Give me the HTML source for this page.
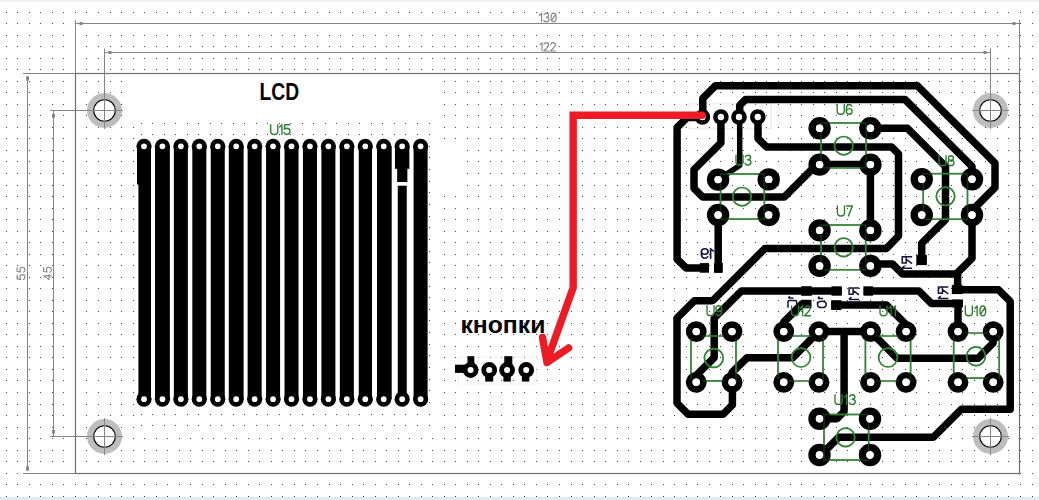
<!DOCTYPE html>
<html><head><meta charset="utf-8"><title>PCB</title>
<style>html,body{margin:0;padding:0;background:#fff;overflow:hidden}svg{display:block}text{font-family:"Liberation Sans",sans-serif}</style>
</head><body>
<svg width="1039" height="500" viewBox="0 0 1039 500">
<rect width="1039" height="500" fill="#fff"/>
<defs><path id="r" fill="#444" d="M6 0h1v1h-1zm11 0h1v1h-1zm12 0h1v1h-1zm11 0h1v1h-1zm12 0h1v1h-1zm11 0h1v1h-1zm12 0h1v1h-1zm11 0h1v1h-1zm12 0h1v1h-1zm12 0h1v1h-1zm11 0h1v1h-1zm12 0h1v1h-1zm11 0h1v1h-1zm12 0h1v1h-1zm11 0h1v1h-1zm12 0h1v1h-1zm11 0h1v1h-1zm12 0h1v1h-1zm11 0h1v1h-1zm12 0h1v1h-1zm11 0h1v1h-1zm12 0h1v1h-1zm11 0h1v1h-1zm12 0h1v1h-1zm11 0h1v1h-1zm12 0h1v1h-1zm11 0h1v1h-1zm12 0h1v1h-1zm12 0h1v1h-1zm11 0h1v1h-1zm12 0h1v1h-1zm11 0h1v1h-1zm12 0h1v1h-1zm11 0h1v1h-1zm12 0h1v1h-1zm11 0h1v1h-1zm12 0h1v1h-1zm11 0h1v1h-1zm12 0h1v1h-1zm11 0h1v1h-1zm12 0h1v1h-1zm11 0h1v1h-1zm12 0h1v1h-1zm11 0h1v1h-1zm12 0h1v1h-1zm11 0h1v1h-1zm12 0h1v1h-1zm11 0h1v1h-1zm12 0h1v1h-1zm12 0h1v1h-1zm11 0h1v1h-1zm12 0h1v1h-1zm11 0h1v1h-1zm12 0h1v1h-1zm11 0h1v1h-1zm12 0h1v1h-1zm11 0h1v1h-1zm12 0h1v1h-1zm11 0h1v1h-1zm12 0h1v1h-1zm11 0h1v1h-1zm12 0h1v1h-1zm11 0h1v1h-1zm12 0h1v1h-1zm11 0h1v1h-1zm12 0h1v1h-1zm11 0h1v1h-1zm12 0h1v1h-1zm12 0h1v1h-1zm11 0h1v1h-1zm12 0h1v1h-1zm11 0h1v1h-1zm12 0h1v1h-1zm11 0h1v1h-1zm12 0h1v1h-1zm11 0h1v1h-1zm12 0h1v1h-1zm11 0h1v1h-1zm12 0h1v1h-1zm11 0h1v1h-1zm12 0h1v1h-1zm11 0h1v1h-1zm12 0h1v1h-1zm11 0h1v1h-1zm12 0h1v1h-1zm11 0h1v1h-1zm12 0h1v1h-1zm11 0h1v1h-1zm12 0h1v1h-1zm12 0h1v1h-1z"/></defs>
<use href="#r" y="12"/>
<use href="#r" y="23"/>
<use href="#r" y="35"/>
<use href="#r" y="46"/>
<use href="#r" y="58"/>
<use href="#r" y="69"/>
<use href="#r" y="81"/>
<use href="#r" y="92"/>
<use href="#r" y="104"/>
<use href="#r" y="115"/>
<use href="#r" y="127"/>
<use href="#r" y="138"/>
<use href="#r" y="150"/>
<use href="#r" y="161"/>
<use href="#r" y="173"/>
<use href="#r" y="185"/>
<use href="#r" y="196"/>
<use href="#r" y="208"/>
<use href="#r" y="219"/>
<use href="#r" y="231"/>
<use href="#r" y="242"/>
<use href="#r" y="254"/>
<use href="#r" y="265"/>
<use href="#r" y="277"/>
<use href="#r" y="288"/>
<use href="#r" y="300"/>
<use href="#r" y="311"/>
<use href="#r" y="323"/>
<use href="#r" y="334"/>
<use href="#r" y="346"/>
<use href="#r" y="357"/>
<use href="#r" y="369"/>
<use href="#r" y="380"/>
<use href="#r" y="392"/>
<use href="#r" y="404"/>
<use href="#r" y="415"/>
<use href="#r" y="427"/>
<use href="#r" y="438"/>
<use href="#r" y="450"/>
<use href="#r" y="461"/>
<use href="#r" y="473"/>
<use href="#r" y="484"/>
<use href="#r" y="496"/>
<rect x="133" y="76" width="308" height="45" fill="#fff"/>
<rect x="434" y="148" width="28" height="46" fill="#fff"/>
<rect x="135" y="121" width="302" height="310" fill="#fff"/>
<path fill="#444" d="M141 123h1v1h-1zm11 0h1v1h-1zm12 0h1v1h-1zm11 0h1v1h-1zm12 0h1v1h-1zm11 0h1v1h-1zm12 0h1v1h-1zm11 0h1v1h-1zm12 0h1v1h-1zm11 0h1v1h-1zm12 0h1v1h-1zm11 0h1v1h-1zm12 0h1v1h-1zm11 0h1v1h-1zm12 0h1v1h-1zm11 0h1v1h-1zm12 0h1v1h-1zm11 0h1v1h-1zm12 0h1v1h-1zm11 0h1v1h-1zm12 0h1v1h-1zm11 0h1v1h-1zm12 0h1v1h-1zm11 0h1v1h-1zm12 0h1v1h-1zm12 0h1v1h-1zM141 134h1v1h-1zm11 0h1v1h-1zm12 0h1v1h-1zm11 0h1v1h-1zm12 0h1v1h-1zm11 0h1v1h-1zm12 0h1v1h-1zm11 0h1v1h-1zm12 0h1v1h-1zm11 0h1v1h-1zm12 0h1v1h-1zm11 0h1v1h-1zm12 0h1v1h-1zm11 0h1v1h-1zm12 0h1v1h-1zm11 0h1v1h-1zm12 0h1v1h-1zm11 0h1v1h-1zm12 0h1v1h-1zm11 0h1v1h-1zm12 0h1v1h-1zm11 0h1v1h-1zm12 0h1v1h-1zm11 0h1v1h-1zm12 0h1v1h-1zm12 0h1v1h-1zM429 146h1v1h-1zM429 157h1v1h-1zM429 169h1v1h-1zM429 181h1v1h-1zM429 192h1v1h-1zM429 204h1v1h-1zM429 216h1v1h-1zM429 227h1v1h-1zM429 239h1v1h-1zM429 251h1v1h-1zM429 262h1v1h-1zM429 274h1v1h-1zM429 286h1v1h-1zM429 297h1v1h-1zM429 309h1v1h-1zM429 320h1v1h-1zM429 332h1v1h-1zM429 344h1v1h-1zM429 355h1v1h-1zM429 367h1v1h-1zM429 379h1v1h-1zM429 390h1v1h-1zM429 402h1v1h-1zM141 414h1v1h-1zm11 0h1v1h-1zm12 0h1v1h-1zm11 0h1v1h-1zm12 0h1v1h-1zm11 0h1v1h-1zm12 0h1v1h-1zm11 0h1v1h-1zm12 0h1v1h-1zm11 0h1v1h-1zm12 0h1v1h-1zm11 0h1v1h-1zm12 0h1v1h-1zm11 0h1v1h-1zm12 0h1v1h-1zm11 0h1v1h-1zm12 0h1v1h-1zm11 0h1v1h-1zm12 0h1v1h-1zm11 0h1v1h-1zm12 0h1v1h-1zm11 0h1v1h-1zm12 0h1v1h-1zm11 0h1v1h-1zm12 0h1v1h-1zm12 0h1v1h-1zM141 425h1v1h-1zm11 0h1v1h-1zm12 0h1v1h-1zm11 0h1v1h-1zm12 0h1v1h-1zm11 0h1v1h-1zm12 0h1v1h-1zm11 0h1v1h-1zm12 0h1v1h-1zm11 0h1v1h-1zm12 0h1v1h-1zm11 0h1v1h-1zm12 0h1v1h-1zm11 0h1v1h-1zm12 0h1v1h-1zm11 0h1v1h-1zm12 0h1v1h-1zm11 0h1v1h-1zm12 0h1v1h-1zm11 0h1v1h-1zm12 0h1v1h-1zm11 0h1v1h-1zm12 0h1v1h-1zm11 0h1v1h-1zm12 0h1v1h-1zm12 0h1v1h-1z"/>
<rect x="0" y="0" width="1039" height="2" fill="#eef0f5"/>
<rect x="0" y="497" width="1039" height="3" fill="#e3ebf5"/>
<rect x="75.5" y="73.5" width="944.0" height="400.0" fill="none" stroke="#6c6c6c" stroke-width="1.15"/>
<line x1="75.5" y1="20" x2="75.5" y2="73.5" stroke="#858585" stroke-width="1"/>
<line x1="1019.5" y1="20" x2="1019.5" y2="73.5" stroke="#858585" stroke-width="1"/>
<line x1="23" y1="73.5" x2="75.5" y2="73.5" stroke="#858585" stroke-width="1"/>
<line x1="23" y1="473.5" x2="75.5" y2="473.5" stroke="#858585" stroke-width="1"/>
<line x1="75.5" y1="23.5" x2="1019.5" y2="23.5" stroke="#858585" stroke-width="1"/>
<rect x="79.5" y="22" width="3" height="3" fill="#858585"/>
<rect x="1012.5" y="22" width="3" height="3" fill="#858585"/>
<line x1="104.5" y1="52.5" x2="990.5" y2="52.5" stroke="#858585" stroke-width="1"/>
<rect x="108.5" y="51" width="3" height="3" fill="#858585"/>
<rect x="983.5" y="51" width="3" height="3" fill="#858585"/>
<line x1="104.5" y1="48.5" x2="104.5" y2="128.5" stroke="#858585" stroke-width="1"/>
<line x1="990.5" y1="48.5" x2="990.5" y2="128.5" stroke="#858585" stroke-width="1"/>
<line x1="27.5" y1="76" x2="27.5" y2="471" stroke="#858585" stroke-width="1"/>
<rect x="26" y="76.5" width="3" height="4" fill="#858585"/>
<rect x="26" y="466.5" width="3" height="4" fill="#858585"/>
<line x1="53.5" y1="110.5" x2="53.5" y2="436.5" stroke="#858585" stroke-width="1"/>
<rect x="52" y="114" width="3" height="3.5" fill="#858585"/>
<rect x="52" y="430" width="3" height="3.5" fill="#858585"/>
<line x1="50" y1="110.5" x2="123" y2="110.5" stroke="#858585" stroke-width="1"/>
<line x1="50" y1="436.5" x2="123" y2="436.5" stroke="#858585" stroke-width="1"/>
<line x1="972" y1="110.5" x2="1009" y2="110.5" stroke="#858585" stroke-width="1"/>
<line x1="972" y1="436.5" x2="1009" y2="436.5" stroke="#858585" stroke-width="1"/>
<circle cx="104.5" cy="110.5" r="14.3" fill="none" stroke="#bdbdbd" stroke-width="6.4"/>
<circle cx="104.5" cy="110.5" r="10.8" fill="#fff" stroke="#000" stroke-width="1.1"/>
<line x1="104.5" y1="92.0" x2="104.5" y2="129.0" stroke="#858585" stroke-width="1"/>
<line x1="86.0" y1="110.5" x2="123.0" y2="110.5" stroke="#858585" stroke-width="1"/>
<circle cx="990.5" cy="110.5" r="14.3" fill="none" stroke="#bdbdbd" stroke-width="6.4"/>
<circle cx="990.5" cy="110.5" r="10.8" fill="#fff" stroke="#000" stroke-width="1.1"/>
<line x1="990.5" y1="92.0" x2="990.5" y2="129.0" stroke="#858585" stroke-width="1"/>
<line x1="972.0" y1="110.5" x2="1009.0" y2="110.5" stroke="#858585" stroke-width="1"/>
<circle cx="104.5" cy="436.5" r="14.3" fill="none" stroke="#bdbdbd" stroke-width="6.4"/>
<circle cx="104.5" cy="436.5" r="10.8" fill="#fff" stroke="#000" stroke-width="1.1"/>
<line x1="104.5" y1="418.0" x2="104.5" y2="455.0" stroke="#858585" stroke-width="1"/>
<line x1="86.0" y1="436.5" x2="123.0" y2="436.5" stroke="#858585" stroke-width="1"/>
<circle cx="990.5" cy="436.5" r="14.3" fill="none" stroke="#bdbdbd" stroke-width="6.4"/>
<circle cx="990.5" cy="436.5" r="10.8" fill="#fff" stroke="#000" stroke-width="1.1"/>
<line x1="990.5" y1="418.0" x2="990.5" y2="455.0" stroke="#858585" stroke-width="1"/>
<line x1="972.0" y1="436.5" x2="1009.0" y2="436.5" stroke="#858585" stroke-width="1"/>
<g fill="#000" stroke="none">
<rect x="137" y="146.3" width="14" height="38.19999999999999"/>
<rect x="138.40" y="146.3" width="12.6" height="252.89999999999998"/>
<circle cx="144.00" cy="146.3" r="7.6"/><circle cx="144.00" cy="399.2" r="7.6"/>
<rect x="155.04" y="146.3" width="14.8" height="252.89999999999998"/>
<circle cx="162.44" cy="146.3" r="7.6"/><circle cx="162.44" cy="399.2" r="7.6"/>
<rect x="173.88" y="146.3" width="14.0" height="252.89999999999998"/>
<circle cx="180.88" cy="146.3" r="7.6"/><circle cx="180.88" cy="399.2" r="7.6"/>
<rect x="192.32" y="146.3" width="14.0" height="252.89999999999998"/>
<circle cx="199.32" cy="146.3" r="7.6"/><circle cx="199.32" cy="399.2" r="7.6"/>
<rect x="210.76" y="146.3" width="14.0" height="252.89999999999998"/>
<circle cx="217.76" cy="146.3" r="7.6"/><circle cx="217.76" cy="399.2" r="7.6"/>
<rect x="228.80" y="146.3" width="14.8" height="252.89999999999998"/>
<circle cx="236.20" cy="146.3" r="7.6"/><circle cx="236.20" cy="399.2" r="7.6"/>
<rect x="247.64" y="146.3" width="14.0" height="252.89999999999998"/>
<circle cx="254.64" cy="146.3" r="7.6"/><circle cx="254.64" cy="399.2" r="7.6"/>
<rect x="266.08" y="146.3" width="14.0" height="252.89999999999998"/>
<circle cx="273.08" cy="146.3" r="7.6"/><circle cx="273.08" cy="399.2" r="7.6"/>
<rect x="284.52" y="146.3" width="14.0" height="252.89999999999998"/>
<circle cx="291.52" cy="146.3" r="7.6"/><circle cx="291.52" cy="399.2" r="7.6"/>
<rect x="302.96" y="146.3" width="14.0" height="252.89999999999998"/>
<circle cx="309.96" cy="146.3" r="7.6"/><circle cx="309.96" cy="399.2" r="7.6"/>
<rect x="321.40" y="146.3" width="14.0" height="252.89999999999998"/>
<circle cx="328.40" cy="146.3" r="7.6"/><circle cx="328.40" cy="399.2" r="7.6"/>
<rect x="339.84" y="146.3" width="14.0" height="252.89999999999998"/>
<circle cx="346.84" cy="146.3" r="7.6"/><circle cx="346.84" cy="399.2" r="7.6"/>
<rect x="358.80" y="146.3" width="13.2" height="252.89999999999998"/>
<circle cx="365.28" cy="146.3" r="7.6"/><circle cx="365.28" cy="399.2" r="7.6"/>
<rect x="377.00" y="146.3" width="14.7" height="252.89999999999998"/>
<circle cx="383.72" cy="146.3" r="7.6"/><circle cx="383.72" cy="399.2" r="7.6"/>
<rect x="413.60" y="146.3" width="14.0" height="252.89999999999998"/>
<circle cx="420.60" cy="146.3" r="7.6"/><circle cx="420.60" cy="399.2" r="7.6"/>
<circle cx="402.16" cy="146.3" r="7.6"/><circle cx="402.16" cy="399.2" r="7.6"/>
<rect x="394.96" y="146.3" width="14.4" height="22.5"/>
<rect x="397.16" y="146.3" width="10.2" height="35.69999999999999"/>
<rect x="397.76" y="185.7" width="9.0" height="213.5"/>
</g>
<g fill="#fff">
<circle cx="144.00" cy="146.3" r="2.85"/><circle cx="144.00" cy="399.2" r="2.85"/>
<circle cx="162.44" cy="146.3" r="2.85"/><circle cx="162.44" cy="399.2" r="2.85"/>
<circle cx="180.88" cy="146.3" r="2.85"/><circle cx="180.88" cy="399.2" r="2.85"/>
<circle cx="199.32" cy="146.3" r="2.85"/><circle cx="199.32" cy="399.2" r="2.85"/>
<circle cx="217.76" cy="146.3" r="2.85"/><circle cx="217.76" cy="399.2" r="2.85"/>
<circle cx="236.20" cy="146.3" r="2.85"/><circle cx="236.20" cy="399.2" r="2.85"/>
<circle cx="254.64" cy="146.3" r="2.85"/><circle cx="254.64" cy="399.2" r="2.85"/>
<circle cx="273.08" cy="146.3" r="2.85"/><circle cx="273.08" cy="399.2" r="2.85"/>
<circle cx="291.52" cy="146.3" r="2.85"/><circle cx="291.52" cy="399.2" r="2.85"/>
<circle cx="309.96" cy="146.3" r="2.85"/><circle cx="309.96" cy="399.2" r="2.85"/>
<circle cx="328.40" cy="146.3" r="2.85"/><circle cx="328.40" cy="399.2" r="2.85"/>
<circle cx="346.84" cy="146.3" r="2.85"/><circle cx="346.84" cy="399.2" r="2.85"/>
<circle cx="365.28" cy="146.3" r="2.85"/><circle cx="365.28" cy="399.2" r="2.85"/>
<circle cx="383.72" cy="146.3" r="2.85"/><circle cx="383.72" cy="399.2" r="2.85"/>
<circle cx="402.16" cy="146.3" r="2.85"/><circle cx="402.16" cy="399.2" r="2.85"/>
<circle cx="420.60" cy="146.3" r="2.85"/><circle cx="420.60" cy="399.2" r="2.85"/>
</g>
<text x="279.3" y="100.4" font-size="23.6" font-weight="bold" fill="#000" text-anchor="middle" textLength="39.6" lengthAdjust="spacingAndGlyphs">LCD</text>
<text x="502.9" y="332.5" font-size="23.5" font-weight="bold" fill="#000" text-anchor="middle" textLength="85" lengthAdjust="spacingAndGlyphs">кнопки</text>
<rect x="458.5" y="357" width="78.5" height="27" fill="none" stroke="#f1efef" stroke-width="1"/>
<g stroke="#000" fill="none" stroke-linecap="butt">
<path d="M455,368.8 H470.6" stroke-width="8.2"/>
<path d="M470.90000000000003,370.0 V356.2" stroke-width="6.8"/>
<path d="M489.2,370.0 V381.6" stroke-width="8"/>
<path d="M508.3,356.2 V370.0" stroke-width="8"/>
<path d="M507.1,370.0 V381.6" stroke-width="7.4"/>
<path d="M525.6,370.0 V381.6" stroke-width="7.4"/>
</g>
<circle cx="470.6" cy="370.0" r="7.9" fill="#000"/><circle cx="470.6" cy="370.0" r="3.05" fill="#fff"/>
<circle cx="489.2" cy="370.0" r="7.9" fill="#000"/><circle cx="489.2" cy="370.0" r="3.05" fill="#fff"/>
<circle cx="507.1" cy="370.0" r="7.9" fill="#000"/><circle cx="507.1" cy="370.0" r="3.05" fill="#fff"/>
<circle cx="526.2" cy="370.0" r="7.9" fill="#000"/><circle cx="526.2" cy="370.0" r="3.05" fill="#fff"/>
<rect x="689.3" y="103.8" width="82" height="25" fill="none" stroke="#ebe6e6" stroke-width="1"/>
<g stroke="#000" stroke-width="7.5" fill="none" stroke-linejoin="round" stroke-linecap="butt">
<path d="M702.8,117 V98.3 L715.3,85.8 H917.5 L995,163.2 V187.5 L972,210.5 V258.3 L957.6,272.7"/>
<path d="M702,117.6 H687 L677.1,127.5 V259.2 L686.2,268 H709"/>
<path d="M739.7,117 V105.4 L745.6,99.5 H905 L972,166.4 V179"/>
<path d="M720.9,117 V142.8 L694,169.7 V188.3 L702.8,197.1 H784.2 L818.8,162.5"/>
<path d="M758,117 V138.5 L766.4,146.9 H891.5 L898.5,153.9 V236 L886.5,248.4 H765 L713.5,299.9 L712,300.7 H694.5 L677,318.2 V403.1 L688.2,414.3 H723 L732.4,404.9 V382"/>
<path d="M841.8,290.9 H741.5 L714.2,318.1 V357.5 L696.5,375.2 V382"/>
<path d="M863.6,290.9 H918.8 L931.3,303.4 H960"/>
<path d="M811,304 H802 L783.8,322 V331.5"/>
<path d="M831.3,305 H886.4 L906.1,324.7 V331.6"/>
<path d="M818.8,331.5 H870.5"/>
<path d="M844.1,331.5 V411.6 L837,418.7 H819.5"/>
<path d="M818.8,331.5 L792.6,357.8 H747 L732,372.5 V382"/>
<path d="M870.6,331.6 L897.2,358.3 H978 L993.2,342.8 V331.6"/>
<path d="M870.4,264 H892.5 L902.6,274.1 H958"/>
<path d="M957.6,270 V294"/>
<path d="M954.5,289.8 H998.6 L1010.2,301.4 V409.3 H961.3 L933.5,437.2 H838.8 L821,455 H819.5"/>
<path d="M958,300 V331.5"/>
<path d="M870.4,128.3 H907.5 L945.5,166.3 V219.6 L921.7,243.4 V265"/>
<path d="M819.6,164.6 H870.4 V230"/>
<path d="M718.2,215 V272.7"/>
<path d="M739.7,117 V165.5 L718.1,179.6" stroke-width="5.5"/>
</g>
<g fill="#000">
<rect x="916.3" y="254.9" width="10.6" height="10.2"/>
<rect x="951.8" y="284.9" width="10.7" height="9.2"/>
<rect x="952.2" y="299.5" width="10.8" height="7.9"/>
<rect x="801.2" y="286.2" width="10.6" height="9.6"/>
<rect x="801" y="299.8" width="10.5" height="8.4"/>
<rect x="831.5" y="286.3" width="10.3" height="9.4"/>
<rect x="831.2" y="300.2" width="10.3" height="9.8"/>
<rect x="863.5" y="286.3" width="9.5" height="9.4"/>
<rect x="699.8" y="263.1" width="9.2" height="9.6"/>
<rect x="714" y="263" width="8.8" height="9.7"/>
</g>
<g stroke="#2f7d32" stroke-width="1.7" fill="none">
<rect x="720.5" y="174" width="43.799999999999955" height="45"/>
<circle cx="742" cy="196.7" r="9.2"/>
<rect x="821" y="123" width="45" height="44.80000000000001"/>
<circle cx="843.7" cy="145.7" r="9.2"/>
<rect x="821" y="225" width="44.700000000000045" height="44.80000000000001"/>
<circle cx="843.7" cy="247.4" r="9.2"/>
<rect x="923.2" y="173.7" width="44.299999999999955" height="45.5"/>
<circle cx="945.5" cy="196.3" r="9.2"/>
<rect x="824" y="414.5" width="44.700000000000045" height="45.5"/>
<circle cx="845.6" cy="437.4" r="9.2"/>
<path d="M691,338 V378.8 M736,338 V381.8 M702.5,336 H724 M702.5,380.8 H724"/>
<circle cx="713.8" cy="358" r="9.4"/>
<path d="M778,338 V379 M823,338 V382 M789,336 H812 M789,381 H812"/>
<circle cx="801" cy="357.6" r="9.4"/>
<path d="M865.4,338 V379 M910.6,338 V382 M876,336 H900 M876,381 H900"/>
<circle cx="888" cy="357.6" r="9.4"/>
<path d="M953.7,335 V376.2 M999.2,335 V379.2 M965.2,333 H987.8 M965.2,378.2 H987.8"/>
<circle cx="976" cy="356.2" r="9.4"/>
</g>
<circle cx="718.1" cy="179.6" r="11.2" fill="#000"/><circle cx="718.1" cy="179.6" r="3.7" fill="#fff"/>
<circle cx="768.7" cy="179.4" r="11.2" fill="#000"/><circle cx="768.7" cy="179.4" r="3.7" fill="#fff"/>
<circle cx="718.1" cy="215" r="11.2" fill="#000"/><circle cx="718.1" cy="215" r="3.7" fill="#fff"/>
<circle cx="768.6" cy="215" r="11.2" fill="#000"/><circle cx="768.6" cy="215" r="3.7" fill="#fff"/>
<circle cx="819.6" cy="128.3" r="11.2" fill="#000"/><circle cx="819.6" cy="128.3" r="3.7" fill="#fff"/>
<circle cx="870.4" cy="128.3" r="11.2" fill="#000"/><circle cx="870.4" cy="128.3" r="3.7" fill="#fff"/>
<circle cx="819.6" cy="164.6" r="11.2" fill="#000"/><circle cx="819.6" cy="164.6" r="3.7" fill="#fff"/>
<circle cx="870.4" cy="164.6" r="11.2" fill="#000"/><circle cx="870.4" cy="164.6" r="3.7" fill="#fff"/>
<circle cx="819.6" cy="230.4" r="11.2" fill="#000"/><circle cx="819.6" cy="230.4" r="3.7" fill="#fff"/>
<circle cx="870.4" cy="230.4" r="11.2" fill="#000"/><circle cx="870.4" cy="230.4" r="3.7" fill="#fff"/>
<circle cx="819.6" cy="265.9" r="11.2" fill="#000"/><circle cx="819.6" cy="265.9" r="3.7" fill="#fff"/>
<circle cx="870.4" cy="265.9" r="11.2" fill="#000"/><circle cx="870.4" cy="265.9" r="3.7" fill="#fff"/>
<circle cx="921.75" cy="179.25" r="11.2" fill="#000"/><circle cx="921.75" cy="179.25" r="3.7" fill="#fff"/>
<circle cx="972" cy="179.25" r="11.2" fill="#000"/><circle cx="972" cy="179.25" r="3.7" fill="#fff"/>
<circle cx="921.75" cy="215" r="11.2" fill="#000"/><circle cx="921.75" cy="215" r="3.7" fill="#fff"/>
<circle cx="972" cy="215" r="11.2" fill="#000"/><circle cx="972" cy="215" r="3.7" fill="#fff"/>
<circle cx="819.5" cy="418.75" r="11.2" fill="#000"/><circle cx="819.5" cy="418.75" r="3.7" fill="#fff"/>
<circle cx="870" cy="418.75" r="11.2" fill="#000"/><circle cx="870" cy="418.75" r="3.7" fill="#fff"/>
<circle cx="819.5" cy="455" r="11.2" fill="#000"/><circle cx="819.5" cy="455" r="3.7" fill="#fff"/>
<circle cx="870" cy="455" r="11.2" fill="#000"/><circle cx="870" cy="455" r="3.7" fill="#fff"/>
<circle cx="696.25" cy="331.6" r="10.4" fill="#000"/><circle cx="696.25" cy="331.6" r="3.7" fill="#fff"/>
<circle cx="732" cy="331.6" r="10.4" fill="#000"/><circle cx="732" cy="331.6" r="3.7" fill="#fff"/>
<circle cx="696.25" cy="382.3" r="10.4" fill="#000"/><circle cx="696.25" cy="382.3" r="3.7" fill="#fff"/>
<circle cx="732.1" cy="382.3" r="10.4" fill="#000"/><circle cx="732.1" cy="382.3" r="3.7" fill="#fff"/>
<circle cx="783.75" cy="331.6" r="10.4" fill="#000"/><circle cx="783.75" cy="331.6" r="3.7" fill="#fff"/>
<circle cx="818.9" cy="331.6" r="10.4" fill="#000"/><circle cx="818.9" cy="331.6" r="3.7" fill="#fff"/>
<circle cx="783.75" cy="382.3" r="10.4" fill="#000"/><circle cx="783.75" cy="382.3" r="3.7" fill="#fff"/>
<circle cx="819" cy="382.3" r="10.4" fill="#000"/><circle cx="819" cy="382.3" r="3.7" fill="#fff"/>
<circle cx="870.6" cy="331.6" r="10.4" fill="#000"/><circle cx="870.6" cy="331.6" r="3.7" fill="#fff"/>
<circle cx="906.1" cy="331.6" r="10.4" fill="#000"/><circle cx="906.1" cy="331.6" r="3.7" fill="#fff"/>
<circle cx="870.6" cy="382.3" r="10.4" fill="#000"/><circle cx="870.6" cy="382.3" r="3.7" fill="#fff"/>
<circle cx="906.1" cy="382.3" r="10.4" fill="#000"/><circle cx="906.1" cy="382.3" r="3.7" fill="#fff"/>
<circle cx="958" cy="331.6" r="10.4" fill="#000"/><circle cx="958" cy="331.6" r="3.7" fill="#fff"/>
<circle cx="993.2" cy="331.6" r="10.4" fill="#000"/><circle cx="993.2" cy="331.6" r="3.7" fill="#fff"/>
<circle cx="958" cy="382.3" r="10.4" fill="#000"/><circle cx="958" cy="382.3" r="3.7" fill="#fff"/>
<circle cx="993.2" cy="382.3" r="10.4" fill="#000"/><circle cx="993.2" cy="382.3" r="3.7" fill="#fff"/>
<circle cx="702.4" cy="117" r="7.8" fill="#000"/><circle cx="702.4" cy="117" r="3.2" fill="#fff"/>
<circle cx="720.9" cy="117" r="7.8" fill="#000"/><circle cx="720.9" cy="117" r="3.2" fill="#fff"/>
<circle cx="739" cy="117" r="7.8" fill="#000"/><circle cx="739" cy="117" r="3.2" fill="#fff"/>
<circle cx="757.8" cy="117" r="7.8" fill="#000"/><circle cx="757.8" cy="117" r="3.2" fill="#fff"/>
<g stroke="#3c9440" stroke-width="1.7" fill="none" opacity="0.3">
<rect x="720.5" y="174" width="43.799999999999955" height="45"/>
<circle cx="742" cy="196.7" r="9.2"/>
<rect x="821" y="123" width="45" height="44.80000000000001"/>
<circle cx="843.7" cy="145.7" r="9.2"/>
<rect x="821" y="225" width="44.700000000000045" height="44.80000000000001"/>
<circle cx="843.7" cy="247.4" r="9.2"/>
<rect x="923.2" y="173.7" width="44.299999999999955" height="45.5"/>
<circle cx="945.5" cy="196.3" r="9.2"/>
<rect x="824" y="414.5" width="44.700000000000045" height="45.5"/>
<circle cx="845.6" cy="437.4" r="9.2"/>
<path d="M691,338 V378.8 M736,338 V381.8 M702.5,336 H724 M702.5,380.8 H724"/>
<circle cx="713.8" cy="358" r="9.4"/>
<path d="M778,338 V379 M823,338 V382 M789,336 H812 M789,381 H812"/>
<circle cx="801" cy="357.6" r="9.4"/>
<path d="M865.4,338 V379 M910.6,338 V382 M876,336 H900 M876,381 H900"/>
<circle cx="888" cy="357.6" r="9.4"/>
<path d="M953.7,335 V376.2 M999.2,335 V379.2 M965.2,333 H987.8 M965.2,378.2 H987.8"/>
<circle cx="976" cy="356.2" r="9.4"/>
</g>
<circle cx="718.1" cy="179.6" r="3.7" fill="#fff"/>
<circle cx="768.7" cy="179.4" r="3.7" fill="#fff"/>
<circle cx="718.1" cy="215" r="3.7" fill="#fff"/>
<circle cx="768.6" cy="215" r="3.7" fill="#fff"/>
<circle cx="819.6" cy="128.3" r="3.7" fill="#fff"/>
<circle cx="870.4" cy="128.3" r="3.7" fill="#fff"/>
<circle cx="819.6" cy="164.6" r="3.7" fill="#fff"/>
<circle cx="870.4" cy="164.6" r="3.7" fill="#fff"/>
<circle cx="819.6" cy="230.4" r="3.7" fill="#fff"/>
<circle cx="870.4" cy="230.4" r="3.7" fill="#fff"/>
<circle cx="819.6" cy="265.9" r="3.7" fill="#fff"/>
<circle cx="870.4" cy="265.9" r="3.7" fill="#fff"/>
<circle cx="921.75" cy="179.25" r="3.7" fill="#fff"/>
<circle cx="972" cy="179.25" r="3.7" fill="#fff"/>
<circle cx="921.75" cy="215" r="3.7" fill="#fff"/>
<circle cx="972" cy="215" r="3.7" fill="#fff"/>
<circle cx="819.5" cy="418.75" r="3.7" fill="#fff"/>
<circle cx="870" cy="418.75" r="3.7" fill="#fff"/>
<circle cx="819.5" cy="455" r="3.7" fill="#fff"/>
<circle cx="870" cy="455" r="3.7" fill="#fff"/>
<circle cx="696.25" cy="331.6" r="3.7" fill="#fff"/>
<circle cx="732" cy="331.6" r="3.7" fill="#fff"/>
<circle cx="696.25" cy="382.3" r="3.7" fill="#fff"/>
<circle cx="732.1" cy="382.3" r="3.7" fill="#fff"/>
<circle cx="783.75" cy="331.6" r="3.7" fill="#fff"/>
<circle cx="818.9" cy="331.6" r="3.7" fill="#fff"/>
<circle cx="783.75" cy="382.3" r="3.7" fill="#fff"/>
<circle cx="819" cy="382.3" r="3.7" fill="#fff"/>
<circle cx="870.6" cy="331.6" r="3.7" fill="#fff"/>
<circle cx="906.1" cy="331.6" r="3.7" fill="#fff"/>
<circle cx="870.6" cy="382.3" r="3.7" fill="#fff"/>
<circle cx="906.1" cy="382.3" r="3.7" fill="#fff"/>
<circle cx="958" cy="331.6" r="3.7" fill="#fff"/>
<circle cx="993.2" cy="331.6" r="3.7" fill="#fff"/>
<circle cx="958" cy="382.3" r="3.7" fill="#fff"/>
<circle cx="993.2" cy="382.3" r="3.7" fill="#fff"/>
<g fill="none" stroke="#2f7d32" stroke-width="1.48" stroke-linecap="round" stroke-linejoin="round"><path transform="translate(270.70 124.70) scale(0.931 0.980)" d="M0,0V7Q0,10 3.8,10Q7.6,10 7.6,7V0"/><path transform="translate(279.68 124.70) scale(0.931 0.980)" d="M0,2.4L2.4,0V10"/><path transform="translate(284.00 124.70) scale(0.931 0.980)" d="M6,0H0.9L0.3,4.6Q1.8,3.6 3.4,3.6Q6.4,3.7 6.4,6.8Q6.4,10 3.1,10Q0.8,10 0,8"/></g>
<g fill="none" stroke="#2f7d32" stroke-width="1.48" stroke-linecap="round" stroke-linejoin="round"><path transform="translate(736.00 155.20) scale(0.931 0.980)" d="M0,0V7Q0,10 3.8,10Q7.6,10 7.6,7V0"/><path transform="translate(744.98 155.20) scale(0.931 0.980)" d="M0.3,1.7Q1.1,0 3.2,0Q6,0 6,2.4Q6,4.6 3,4.7Q6.4,4.8 6.4,7.3Q6.4,10 3.2,10Q0.7,10 0,8.2"/></g>
<g fill="none" stroke="#2f7d32" stroke-width="1.48" stroke-linecap="round" stroke-linejoin="round"><path transform="translate(837.20 104.50) scale(0.931 0.980)" d="M0,0V7Q0,10 3.8,10Q7.6,10 7.6,7V0"/><path transform="translate(846.18 104.50) scale(0.931 0.980)" d="M6,1.6Q5.3,0 3.5,0Q0.2,0 0.2,5V7Q0.2,10 3.3,10Q6.4,10 6.4,7Q6.4,4.2 3.4,4.2Q1,4.2 0.2,6.4"/></g>
<g fill="none" stroke="#2f7d32" stroke-width="1.48" stroke-linecap="round" stroke-linejoin="round"><path transform="translate(837.40 206.10) scale(0.931 0.980)" d="M0,0V7Q0,10 3.8,10Q7.6,10 7.6,7V0"/><path transform="translate(846.38 206.10) scale(0.931 0.980)" d="M0,0H6.4L2.2,10"/></g>
<g fill="none" stroke="#2f7d32" stroke-width="1.48" stroke-linecap="round" stroke-linejoin="round"><path transform="translate(939.00 155.80) scale(0.931 0.980)" d="M0,0V7Q0,10 3.8,10Q7.6,10 7.6,7V0"/><path transform="translate(947.98 155.80) scale(0.931 0.980)" d="M3.2,4.6Q0.5,4.6 0.5,2.3Q0.5,0 3.2,0Q5.9,0 5.9,2.3Q5.9,4.6 3.2,4.6Q0,4.6 0,7.3Q0,10 3.2,10Q6.4,10 6.4,7.3Q6.4,4.6 3.2,4.6"/></g>
<g fill="none" stroke="#2f7d32" stroke-width="1.48" stroke-linecap="round" stroke-linejoin="round"><path transform="translate(707.00 305.80) scale(0.931 0.980)" d="M0,0V7Q0,10 3.8,10Q7.6,10 7.6,7V0"/><path transform="translate(715.78 305.80) scale(0.931 0.980)" d="M0.5,8.4Q1.2,10 3,10Q6.3,10 6.3,5V3Q6.3,0 3.2,0Q0.1,0 0.1,3Q0.1,5.8 3.1,5.8Q5.5,5.8 6.3,3.6"/></g>
<g fill="none" stroke="#2f7d32" stroke-width="1.48" stroke-linecap="round" stroke-linejoin="round"><path transform="translate(791.60 305.90) scale(0.931 0.980)" d="M0,0V7Q0,10 3.8,10Q7.6,10 7.6,7V0"/><path transform="translate(800.38 305.90) scale(0.931 0.980)" d="M0,2.4L2.4,0V10"/><path transform="translate(804.50 305.90) scale(0.931 0.980)" d="M0.3,2.2Q0.8,0 3.3,0Q6.1,0 6.1,2.6Q6.1,4.3 4,6L0,10H6.4"/></g>
<g fill="none" stroke="#2f7d32" stroke-width="1.48" stroke-linecap="round" stroke-linejoin="round"><path transform="translate(880.00 306.00) scale(0.931 0.980)" d="M0,0V7Q0,10 3.8,10Q7.6,10 7.6,7V0"/><path transform="translate(888.88 306.00) scale(0.931 0.980)" d="M0,2.4L2.4,0V10"/><path transform="translate(893.10 306.00) scale(0.931 0.980)" d="M0,2.4L2.4,0V10"/></g>
<g fill="none" stroke="#2f7d32" stroke-width="1.48" stroke-linecap="round" stroke-linejoin="round"><path transform="translate(965.30 306.00) scale(0.931 0.980)" d="M0,0V7Q0,10 3.8,10Q7.6,10 7.6,7V0"/><path transform="translate(974.88 306.00) scale(0.931 0.980)" d="M0,2.4L2.4,0V10"/><path transform="translate(979.80 306.00) scale(0.931 0.980)" d="M3.2,0Q0.1,0 0.1,5Q0.1,10 3.2,10Q6.3,10 6.3,5Q6.3,0 3.2,0M1,8.3L5.5,1.7"/></g>
<g fill="none" stroke="#2f7d32" stroke-width="1.48" stroke-linecap="round" stroke-linejoin="round"><path transform="translate(835.00 394.70) scale(0.931 0.980)" d="M0,0V7Q0,10 3.8,10Q7.6,10 7.6,7V0"/><path transform="translate(844.48 394.70) scale(0.931 0.980)" d="M0,2.4L2.4,0V10"/><path transform="translate(849.30 394.70) scale(0.931 0.980)" d="M0.3,1.7Q1.1,0 3.2,0Q6,0 6,2.4Q6,4.6 3,4.7Q6.4,4.8 6.4,7.3Q6.4,10 3.2,10Q0.7,10 0,8.2"/></g>
<g>
<g fill="none" stroke="#858585" stroke-width="1.40" stroke-linecap="round" stroke-linejoin="round"><path transform="translate(539.60 13.20) scale(0.817 0.860)" d="M0,2.4L2.4,0V10"/><path transform="translate(543.72 13.20) scale(0.817 0.860)" d="M0.3,1.7Q1.1,0 3.2,0Q6,0 6,2.4Q6,4.6 3,4.7Q6.4,4.8 6.4,7.3Q6.4,10 3.2,10Q0.7,10 0,8.2"/><path transform="translate(550.95 13.20) scale(0.817 0.860)" d="M3.2,0Q0.1,0 0.1,5Q0.1,10 3.2,10Q6.3,10 6.3,5Q6.3,0 3.2,0M1,8.3L5.5,1.7"/></g>
<g fill="none" stroke="#858585" stroke-width="1.43" stroke-linecap="round" stroke-linejoin="round"><path transform="translate(540.10 42.60) scale(0.798 0.840)" d="M0,2.4L2.4,0V10"/><path transform="translate(543.77 42.60) scale(0.798 0.840)" d="M0.3,2.2Q0.8,0 3.3,0Q6.1,0 6.1,2.6Q6.1,4.3 4,6L0,10H6.4"/><path transform="translate(550.48 42.60) scale(0.798 0.840)" d="M0.3,2.2Q0.8,0 3.3,0Q6.1,0 6.1,2.6Q6.1,4.3 4,6L0,10H6.4"/></g>
</g>
<g transform="rotate(-90 25 272.5)">
<g fill="none" stroke="#8a8a8a" stroke-width="1.47" stroke-linecap="round" stroke-linejoin="round"><path transform="translate(17.90 264.60) scale(0.780 0.780)" d="M6,0H0.9L0.3,4.6Q1.8,3.6 3.4,3.6Q6.4,3.7 6.4,6.8Q6.4,10 3.1,10Q0.8,10 0,8"/><path transform="translate(25.29 264.60) scale(0.780 0.780)" d="M6,0H0.9L0.3,4.6Q1.8,3.6 3.4,3.6Q6.4,3.7 6.4,6.8Q6.4,10 3.1,10Q0.8,10 0,8"/></g>
</g>
<g transform="rotate(-90 51.5 272.5)">
<g fill="none" stroke="#8a8a8a" stroke-width="1.47" stroke-linecap="round" stroke-linejoin="round"><path transform="translate(44.40 264.60) scale(0.780 0.780)" d="M4.8,10V0L0,7H6.4"/><path transform="translate(51.79 264.60) scale(0.780 0.780)" d="M6,0H0.9L0.3,4.6Q1.8,3.6 3.4,3.6Q6.4,3.7 6.4,6.8Q6.4,10 3.1,10Q0.8,10 0,8"/></g>
</g>
<path transform="translate(901.6 256)" d="M0,0.8H10.5M0.6,0.8V7H4.6V0.8M4.6,3.4L10.5,7.6M0.3,12.2H10.5M0.3,12.2L3,10" fill="none" stroke="#14143c" stroke-width="1.5"/>
<path transform="translate(937.8 286.2)" d="M0,0.8H10.5M0.6,0.8V7H4.6V0.8M4.6,3.4L10.5,7.6M0.3,12.2H10.5M0.3,12.2L3,10" fill="none" stroke="#14143c" stroke-width="1.5"/>
<path transform="translate(848.5 287.2)" d="M0,0.8H10.5M0.6,0.8V7H4.6V0.8M4.6,3.4L10.5,7.6M0.3,12.2H10.5M0.3,12.2L3,10" fill="none" stroke="#14143c" stroke-width="1.5"/>
<path transform="translate(787.3 295.4)" d="M1,2.6H6.2M1,2.6L2.6,0.8M0.7,12.3V6.4Q0.7,5.2 2,5.2H8Q9.3,5.2 9.3,6.4V11.8" fill="none" stroke="#14143c" stroke-width="1.5"/>
<path transform="translate(816.8 295.8)" d="M1,2.6H6.2M1,2.6L2.6,0.8M0.7,8.6Q0.7,5.4 5,5.4Q9.4,5.4 9.4,8.6Q9.4,11.8 5,11.8Q0.7,11.8 0.7,8.6M0.7,6V8.6" fill="none" stroke="#14143c" stroke-width="1.5"/>
<g transform="translate(713.2 0) scale(-1,1)">
<g fill="none" stroke="#14143c" stroke-width="1.56" stroke-linecap="round" stroke-linejoin="round"><path transform="translate(0.00 248.70) scale(1.075 0.960)" d="M0,2.4L2.4,0V10"/><path transform="translate(5.00 248.70) scale(1.075 0.960)" d="M0.5,8.4Q1.2,10 3,10Q6.3,10 6.3,5V3Q6.3,0 3.2,0Q0.1,0 0.1,3Q0.1,5.8 3.1,5.8Q5.5,5.8 6.3,3.6"/></g>
</g>
<g stroke="#ed1c24" fill="none" stroke-width="7.4" stroke-linejoin="miter" stroke-linecap="round">
<path d="M702,115.3 H573.2 V287.5 L548,358" stroke-linecap="round"/>
<path d="M542.5,337.5 L547,362.5 L568.5,348" stroke-linejoin="round"/>
</g>
</svg></body></html>
